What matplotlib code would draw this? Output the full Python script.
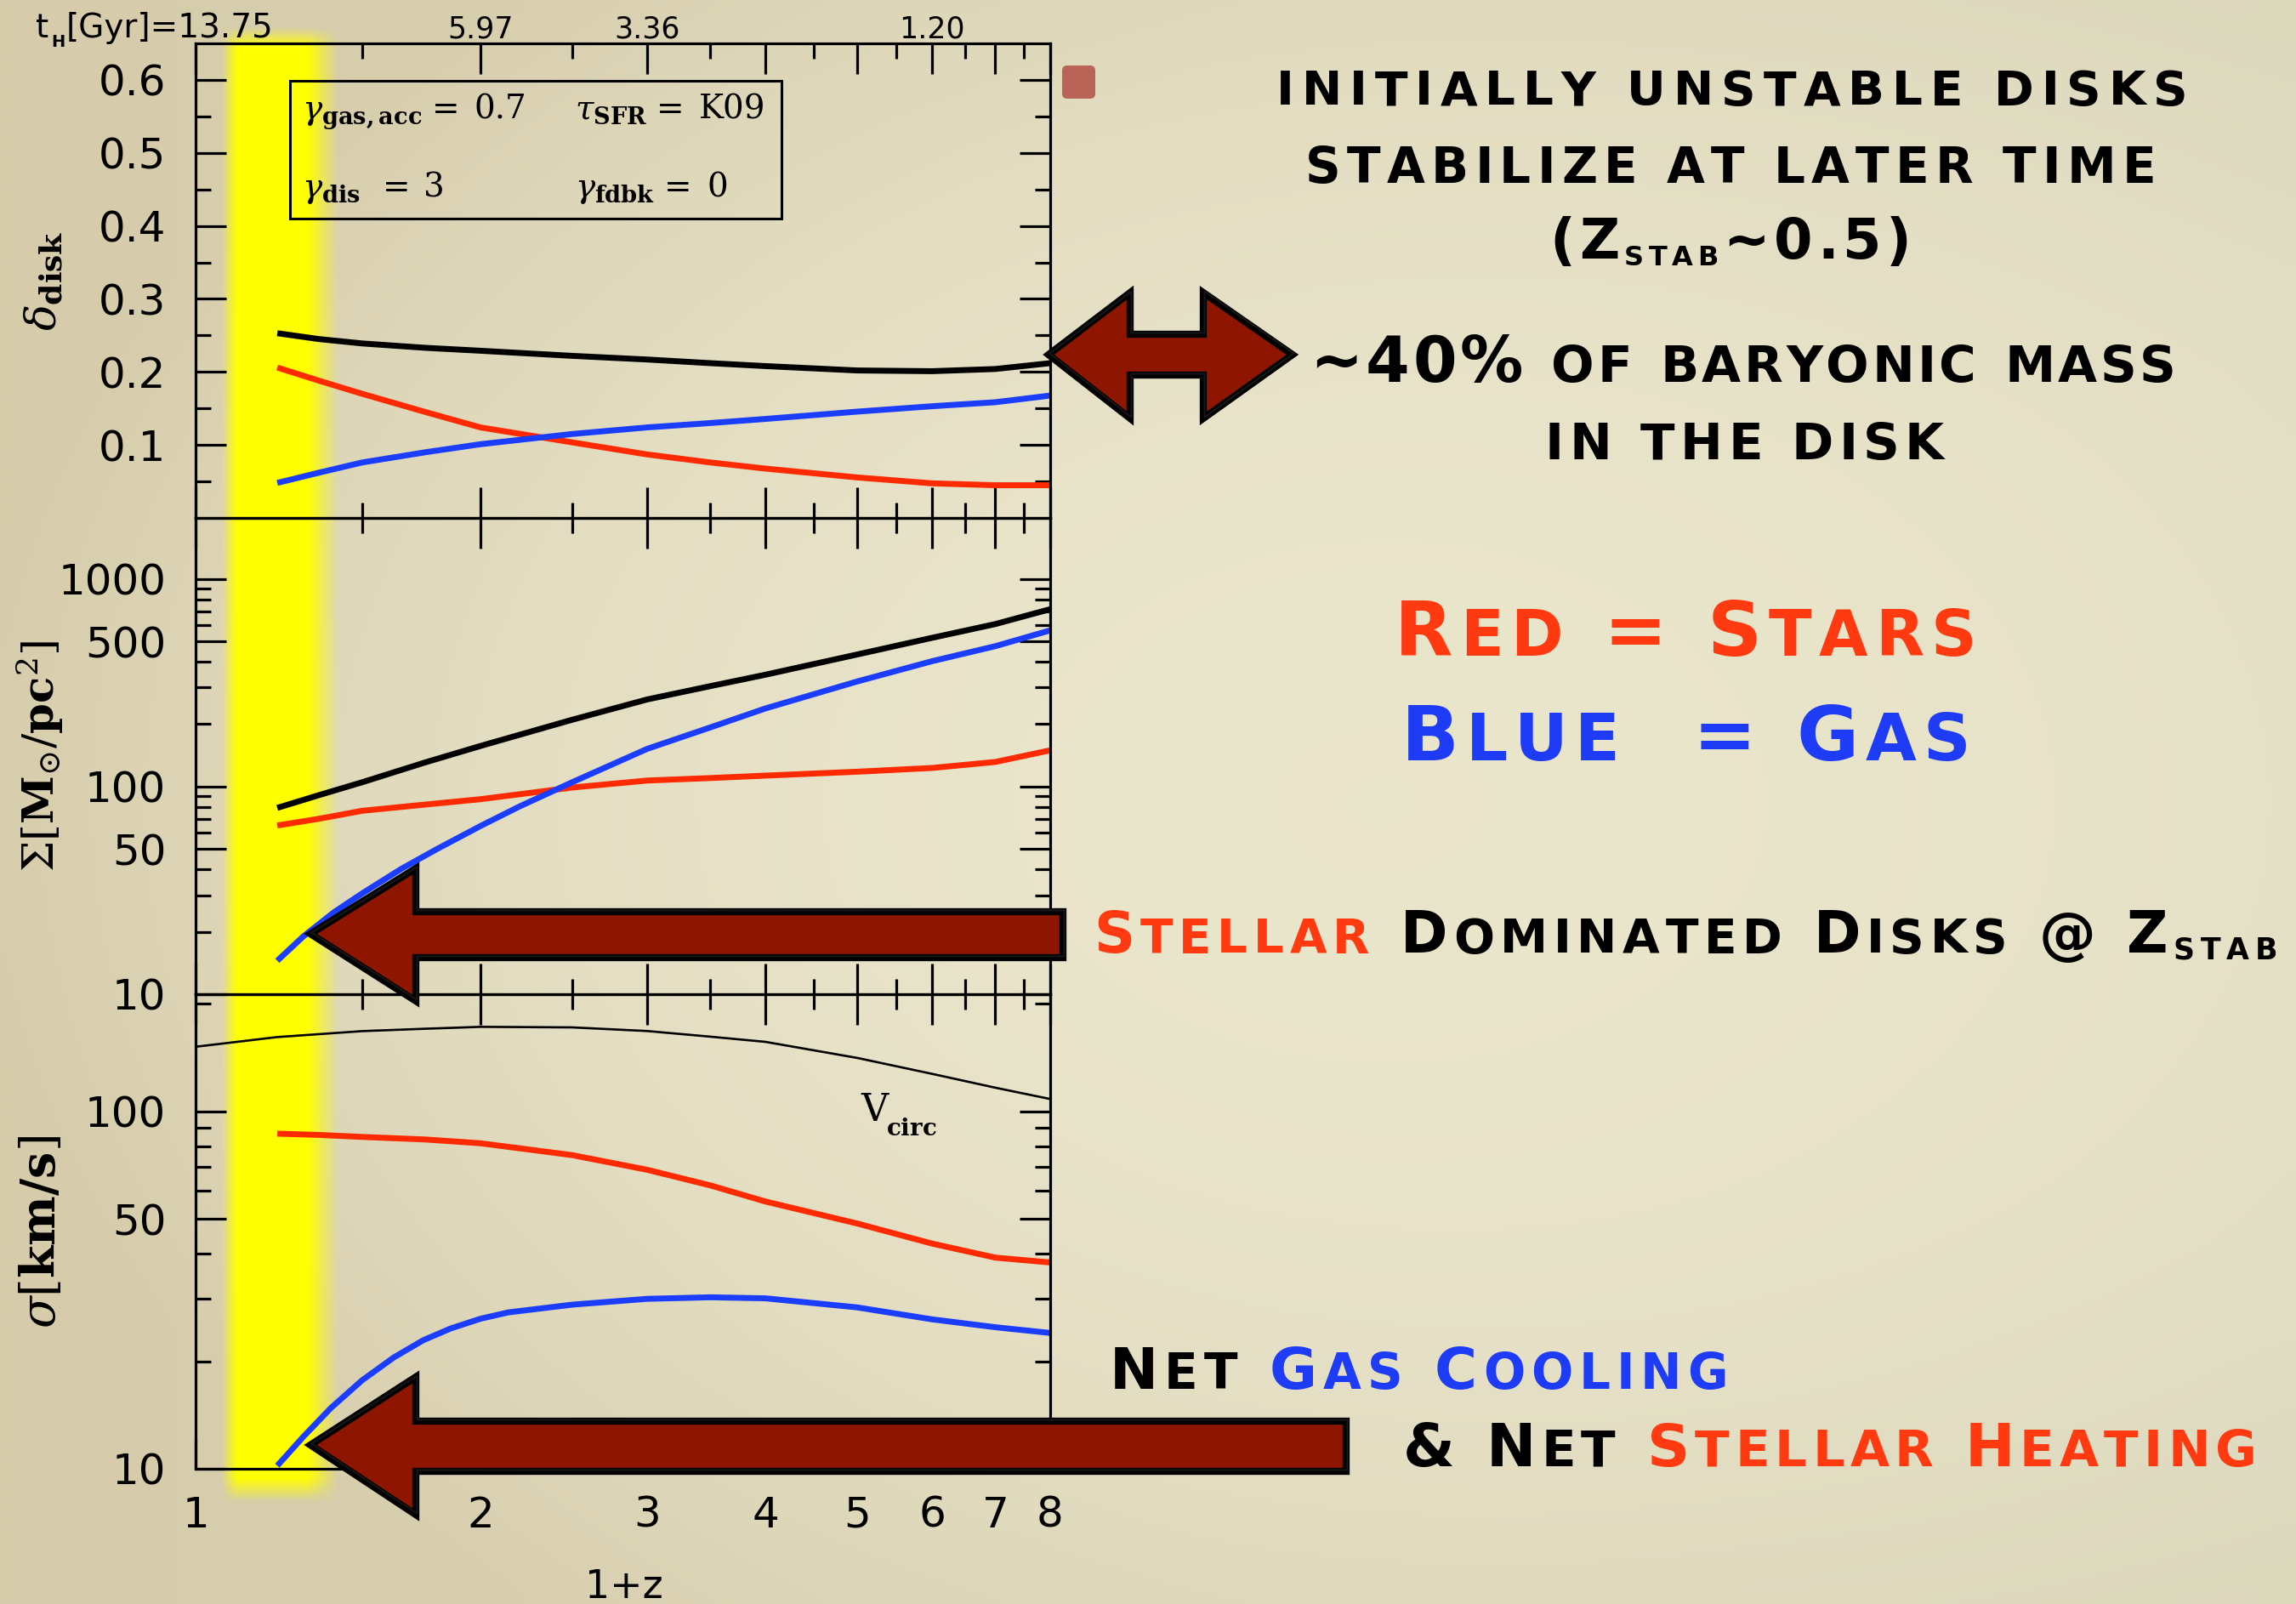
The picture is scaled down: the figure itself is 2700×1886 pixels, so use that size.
import numpy as np
import matplotlib
matplotlib.use("Agg")
import matplotlib.pyplot as plt
from matplotlib.font_manager import FontProperties
from matplotlib.patches import Polygon, FancyBboxPatch, Rectangle
from matplotlib.ticker import FixedLocator, FixedFormatter, NullFormatter
import matplotlib.transforms as mtransforms

W, H, DPI = 2700, 1886, 100

# ---------------- data ----------------
zp = [1.22, 1.35, 1.5, 1.75, 2.0, 2.5, 3.0, 3.5, 4.0, 5.0, 6.0, 7.0, 8.0]
delta_total = [0.253, 0.245, 0.239, 0.233, 0.229, 0.222, 0.217, 0.212, 0.208, 0.202, 0.201, 0.204, 0.212]
delta_stars = [0.206, 0.188, 0.170, 0.145, 0.124, 0.1035, 0.087, 0.076, 0.0676, 0.0555, 0.0474, 0.0448, 0.0448]
delta_gas = [0.048, 0.062, 0.076, 0.090, 0.101, 0.115, 0.124, 0.130, 0.1356, 0.1456, 0.153, 0.1585, 0.1676]

surf_total = [79, 91, 105, 131, 157, 210, 263, 305, 346, 433, 521, 607, 716]
surf_stars = [65, 70, 76.5, 82, 87, 99, 107, 110, 113, 118, 123, 131.5, 149.6]
zp_surf_gas = [1.22, 1.3, 1.4, 1.5, 1.65, 1.8, 2.0, 2.2, 2.5, 3.0, 3.5, 4.0, 5.0, 6.0, 7.0, 8.0]
surf_gas = [14.5, 19.0, 24.8, 30.6, 40.2, 50.1, 64.6, 80.3, 105, 152, 193, 238, 321, 402, 475, 566]

zp_vcirc = [1.0, 1.22, 1.5, 1.75, 2.0, 2.5, 3.0, 3.5, 4.0, 5.0, 6.0, 7.0, 8.0]
v_circ = [151.8, 161.6, 167.9, 170.5, 172.6, 172.0, 168.0, 162.0, 156.7, 141.3, 127.5, 116.6, 108.4]
disp_stars = [86.7, 86.0, 84.9, 83.5, 81.5, 75.5, 68.7, 62.1, 56.0, 48.6, 42.7, 39.0, 37.8]
zp_disp_gas = [1.22, 1.3, 1.39, 1.5, 1.62, 1.74, 1.86, 2.0, 2.14, 2.5, 3.0, 3.5, 4.0, 5.0, 6.0, 7.0, 8.0]
disp_gas = [10.2, 12.3, 14.8, 17.7, 20.5, 22.9, 24.7, 26.3, 27.4, 28.8, 29.9, 30.2, 30.0, 28.3, 26.2, 24.9, 24.0]

x_major = [1, 2, 3, 4, 5, 6, 7, 8]
x_minor = [1.5, 2.5, 3.5, 4.5, 5.5, 6.5, 7.5]
x_labels = ['1', '2', '3', '4', '5', '6', '7', '8']

delta_major = [0.1, 0.2, 0.3, 0.4, 0.5, 0.6]
delta_labels = ['0.1', '0.2', '0.3', '0.4', '0.5', '0.6']
delta_minor = [0.05, 0.15, 0.25, 0.35, 0.45, 0.55]

surf_major = [10, 50, 100, 500, 1000]
surf_labels = ['10', '50', '100', '500', '1000']
surf_minor = [20, 30, 40, 60, 70, 80, 90, 200, 300, 400, 600, 700, 800, 900]

disp_major = [10, 50, 100]
disp_labels = ['10', '50', '100']
disp_minor = [20, 30, 40, 60, 70, 80, 90, 200]

tH_pos = [2, 3, 6]
tH_labels = ['5.97', '3.36', '1.20']
tH_today = '13.75'

STAR_RED = '#FF2A00'
GAS_BLUE = '#1B3DFF'
TEXT_RED = '#FF3A10'
TEXT_BLUE = '#1E3CF5'
ARROW_RED = '#8E1500'

# ---------------- fonts ----------------
plt.rcParams['font.family'] = ['DejaVu Sans']
plt.rcParams['mathtext.fontset'] = 'dejavuserif'
CAPS_FP = FontProperties(family='DejaVu Sans', weight='bold')

fig = plt.figure(figsize=(W / DPI, H / DPI), dpi=DPI)


def fx(x):
    return x / W


def fy(y):
    return 1 - y / H


# ---------------- paper background ----------------
bg = fig.add_axes([0, 0, 1, 1], zorder=-10)
bg.set_axis_off()
gy, gx = np.mgrid[0:1:190j, 0:1:270j]
r = np.sqrt(((gx - 0.60) / 0.62) ** 2 + ((gy - 0.50) / 0.62) ** 2)
t = np.clip(r, 0, 1) ** 2
center = np.array([0.918, 0.902, 0.800])
edge_l = np.array([0.840, 0.800, 0.670])
edge_r = np.array([0.868, 0.852, 0.745])
edge = edge_l[None, None, :] * (1 - gx[..., None]) + edge_r[None, None, :] * gx[..., None]
img = center[None, None, :] * (1 - t[..., None]) + edge * t[..., None]
bg.imshow(img, extent=[0, W, H, 0], aspect='auto', interpolation='bilinear')

# yellow highlight column
bx = np.linspace(240, 420, 181)
by = np.linspace(20, 1780, 400)
ax_prof = np.clip(np.minimum((bx - 260) / 18.0, (398 - bx) / 36.0), 0, 1)
ay_prof = np.clip(np.minimum((by - 30) / 25.0, (1768 - by) / 28.0), 0, 1)
band = np.zeros((len(by), len(bx), 4))
band[..., 0] = 1.0
band[..., 1] = 1.0
band[..., 3] = ay_prof[:, None] * ax_prof[None, :]
bg.imshow(band, extent=[240, 420, 1780, 20], aspect='auto', interpolation='bilinear')
bg.set_xlim(0, W)
bg.set_ylim(H, 0)

# ---------------- panels ----------------
left, width = 230 / W, (1235 - 230) / W
ax1 = fig.add_axes([left, 1 - 609 / H, width, 558 / H])
ax2 = fig.add_axes([left, 1 - 1169 / H, width, 560 / H])
ax3 = fig.add_axes([left, 1 - 1727 / H, width, 558 / H])


def style(ax, ymaj, ylab, ymin, log_y, ylim, show_x):
    ax.set_facecolor('none')
    ax.set_xscale('log')
    if log_y:
        ax.set_yscale('log')
    ax.set_xlim(1, 8)
    ax.set_ylim(*ylim)
    ax.xaxis.set_major_locator(FixedLocator(x_major))
    ax.xaxis.set_minor_locator(FixedLocator(x_minor))
    ax.xaxis.set_major_formatter(FixedFormatter(x_labels) if show_x else NullFormatter())
    ax.xaxis.set_minor_formatter(NullFormatter())
    ax.yaxis.set_major_locator(FixedLocator(ymaj))
    ax.yaxis.set_major_formatter(FixedFormatter(ylab))
    ax.yaxis.set_minor_locator(FixedLocator(ymin))
    ax.yaxis.set_minor_formatter(NullFormatter())
    for s in ax.spines.values():
        s.set_linewidth(2.3)
    ax.tick_params(which='both', direction='in', top=True, right=True,
                   width=2.3, labelsize=36, labelbottom=show_x)
    ax.tick_params(which='major', length=26)
    ax.tick_params(which='minor', length=13)
    ax.tick_params(axis='y', which='both', pad=25)
    ax.tick_params(axis='x', which='both', pad=22)


style(ax1, delta_major, delta_labels, delta_minor, False, (0, 0.65), False)
style(ax2, surf_major, surf_labels, surf_minor, True, (10, 1970), False)
style(ax3, disp_major, disp_labels, disp_minor, True, (10, 213), True)

LW = 5.0
ax1.plot(zp, delta_total, color='black', lw=LW, solid_capstyle='butt')
ax1.plot(zp, delta_stars, color=STAR_RED, lw=LW, solid_capstyle='butt')
ax1.plot(zp, delta_gas, color=GAS_BLUE, lw=LW, solid_capstyle='butt')

ax2.plot(zp, surf_total, color='black', lw=LW, solid_capstyle='butt')
ax2.plot(zp, surf_stars, color=STAR_RED, lw=LW, solid_capstyle='butt')
ax2.plot(zp_surf_gas, surf_gas, color=GAS_BLUE, lw=LW, solid_capstyle='butt')

ax3.plot(zp_vcirc, v_circ, color='black', lw=1.9)
ax3.plot(zp, disp_stars, color=STAR_RED, lw=LW, solid_capstyle='butt')
ax3.plot(zp_disp_gas, disp_gas, color=GAS_BLUE, lw=LW, solid_capstyle='butt')

ax1.set_ylabel(r'$\delta_{\mathbf{disk}}$', fontsize=37)
ax2.set_ylabel(r'$\Sigma[\mathbf{M}_{\odot}/\mathbf{pc}^{2}]$', fontsize=37)
ax3.set_ylabel(r'$\sigma[\mathbf{km/s}]$', fontsize=40)
for ax in (ax1, ax2, ax3):
    ax.yaxis.set_label_coords(-0.152, 0.5)
ax3.set_xlabel('1+z', fontsize=33)
ax3.xaxis.set_label_coords(0.5015, -0.21)

# cosmic time along the top axis
trans = mtransforms.blended_transform_factory(ax1.transData, ax1.transAxes)
for xp, lab in zip(tH_pos, tH_labels):
    ax1.text(xp, 1.011, lab, transform=trans, ha='center', va='baseline', fontsize=25)
fig.text(fx(42), fy(44), 't', fontsize=28, ha='left', va='baseline')
fig.text(fx(60), fy(55), 'H', fontsize=14, fontweight='bold', ha='left', va='baseline')
fig.text(fx(78), fy(44), '[Gyr]=' + tH_today, fontsize=28, ha='left', va='baseline')

# V_circ tag
fig.text(fx(1012), fy(1318), r'$\mathrm{V}$', fontsize=32, ha='left', va='baseline')
fig.text(fx(1042), fy(1335), r'$\mathbf{circ}$', fontsize=20, ha='left', va='baseline')

# ---------------- overlay: parameter box, arrows, marker ----------------
ov = fig.add_axes([0, 0, 1, 1], zorder=20)
ov.set_axis_off()
ov.set_facecolor('none')
ov.set_xlim(0, W)
ov.set_ylim(H, 0)

ov.add_patch(Rectangle((341, 95), 578, 162, fill=False, ec='black', lw=2.2))
box_rows = [
    (140, [(355, r'$\gamma_{\mathbf{gas,acc}}$'), (508, '='), (558, '0.7'),
           (676, r'$\tau_{\mathbf{SFR}}$'), (772, '='), (822, 'K09')]),
    (232, [(355, r'$\gamma_{\mathbf{dis}}$'), (450, '='), (498, '3'),
           (676, r'$\gamma_{\mathbf{fdbk}}$'), (781, '='), (831, '0')]),
]
for yb, items in box_rows:
    for xb, s in items:
        fig.text(fx(xb), fy(yb), s, fontsize=28, family='DejaVu Serif',
                 ha='left', va='baseline', zorder=30)

ov.add_patch(FancyBboxPatch((1251, 79), 35, 35, boxstyle='round,pad=2,rounding_size=6',
                            fc='#B65A4E', ec='none', alpha=0.92))


def arrow(pts):
    ov.add_patch(Polygon(pts, closed=True, fc=ARROW_RED, ec='black', lw=6, joinstyle='miter'))
    ov.add_patch(Polygon(np.array(pts) + [1.5, -1.5], closed=True, fill=False,
                         ec='#202020', lw=1.5, alpha=0.7))


arrow([(365, 1098), (489, 1021), (489, 1072), (1250, 1072), (1250, 1126),
       (489, 1126), (489, 1177)])
arrow([(365, 1699), (489, 1619), (489, 1671), (1583, 1671), (1583, 1730),
       (489, 1730), (489, 1781)])
arrow([(1233, 417), (1329, 344), (1329, 393), (1415, 393), (1415, 344),
       (1520, 417), (1415, 492), (1415, 441), (1329, 441), (1329, 492)])

# ---------------- small-caps captions ----------------
renderer = fig.canvas.get_renderer()


def _adv(ch, size):
    fp = CAPS_FP.copy()
    fp.set_size(size)
    w2 = renderer.get_text_width_height_descent('HH', fp, ismath=False)[0]
    w3 = renderer.get_text_width_height_descent('H' + ch + 'H', fp, ismath=False)[0]
    return w3 - w2


def caps_line(x0, x1, base, runs, big, small, sub=None, sub_dy=8):
    glyphs = []
    for text, color, kind in runs:
        for ch in text:
            if kind == 'sub':
                glyphs.append((ch.upper(), sub, color, sub_dy))
            elif ch.islower():
                glyphs.append((ch.upper(), small, color, 0))
            else:
                glyphs.append((ch, big, color, 0))
    advs = [_adv(c, s) for c, s, _, _ in glyphs]
    natural = sum(advs)
    track = (x1 - x0 - natural) / max(len(glyphs) - 1, 1)
    x = x0
    for (c, s, col, dy), a in zip(glyphs, advs):
        if c != ' ':
            fig.text(fx(x), fy(base + dy), c, fontproperties=CAPS_FP, fontsize=s,
                     color=col, ha='left', va='baseline', zorder=30)
        x += a + track


k = 1.07
caps_line(1501, 2573, 123, [('initially unstable disks', 'black', 'n')], 38 * k, 38 * k)
caps_line(1535, 2535, 215, [('stabilize at later time', 'black', 'n')], 39 * k, 39 * k)
caps_line(1822, 2248, 304, [('(Z', 'black', 'n'), ('stab', 'black', 'sub'), ('~0.5)', 'black', 'n')],
          44 * k, 44 * k, sub=23, sub_dy=8)
caps_line(1540, 2559, 449, [('~40% of baryonic mass', 'black', 'n')], 50 * k, 40 * k)
caps_line(1817, 2286, 540, [('in the disk', 'black', 'n')], 40 * k, 40 * k)

caps_line(1640, 2324, 771, [('Red = Stars', TEXT_RED, 'n')], 60 * k, 50 * k)
caps_line(1648, 2317, 894, [('Blue  = Gas', TEXT_BLUE, 'n')], 60 * k, 52 * k)

caps_line(1286, 2678, 1120, [('Stellar', TEXT_RED, 'n'), (' Dominated Disks @ Z', 'black', 'n'),
                             ('stab', 'black', 'sub')], 45 * k, 38 * k, sub=25, sub_dy=8)
caps_line(1305, 2032, 1633, [('Net ', 'black', 'n'), ('Gas Cooling', TEXT_BLUE, 'n')], 46 * k, 39 * k)
caps_line(1650, 2654, 1724, [('& Net ', 'black', 'n'), ('Stellar Heating', TEXT_RED, 'n')], 47 * k, 40 * k)

fig.savefig('out.png', dpi=DPI)
